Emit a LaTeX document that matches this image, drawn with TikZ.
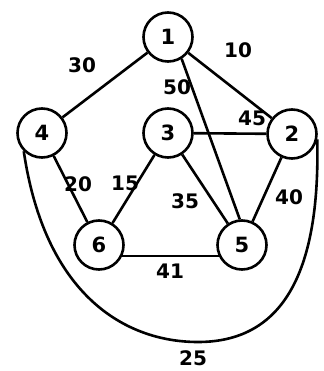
\documentclass[tikz,border=0pt]{standalone}
\usepackage{fontspec}
\setmainfont{DejaVu Sans}
\begin{document}
\begin{tikzpicture}[x=1pt,y=-1pt,
  vert/.style={circle,draw,line width=2.6pt,minimum size=49pt,inner sep=0pt,font=\fontsize{21}{21}\selectfont\bfseries},
  edge/.style={line width=2.6pt},
  wlabel/.style={inner sep=0pt,font=\fontsize{20}{20}\selectfont\bfseries}]
\useasboundingbox (0,0) rectangle (323,371);
\node[vert] (n1) at (168,37) {1};
\node[vert] (n4) at (42,133) {4};
\node[vert] (n3) at (168,133) {3};
\node[vert] (n2) at (292,134) {2};
\node[vert] (n6) at (99,245) {6};
\node[vert] (n5) at (242,245) {5};
\draw[edge] (n1) -- (n4);
\draw[edge] (n1) -- (n2);
\draw[edge] (n1.-58) -- (n5.95);
\draw[edge] (n3) -- (n2);
\draw[edge] (n3) -- (n6);
\draw[edge] (n3) -- (n5);
\draw[edge] (n4) -- (n6);
\draw[edge] (n2) -- (n5);
\draw[edge] (n6.-25) -- (n5.-155);
\draw[edge] (n4.-135) .. controls (45,295) and (125,342) .. (198,342)
  .. controls (290,342) and (320,260) .. (n2.-12);
\node[wlabel] (l30) at (82,65) {30};
\node[wlabel] (l10) at (238,50) {10};
\node[wlabel] (l50) at (177,87) {50};
\node[wlabel] (l45) at (252,118) {45};
\node[wlabel] (l20) at (78,184) {20};
\node[wlabel] (l15) at (125,183) {15};
\node[wlabel] (l35) at (185,201) {35};
\node[wlabel] (l40) at (289,197) {40};
\node[wlabel] (l41) at (170,271) {41};
\node[wlabel] (l25) at (193,358) {25};
\end{tikzpicture}
\end{document}
